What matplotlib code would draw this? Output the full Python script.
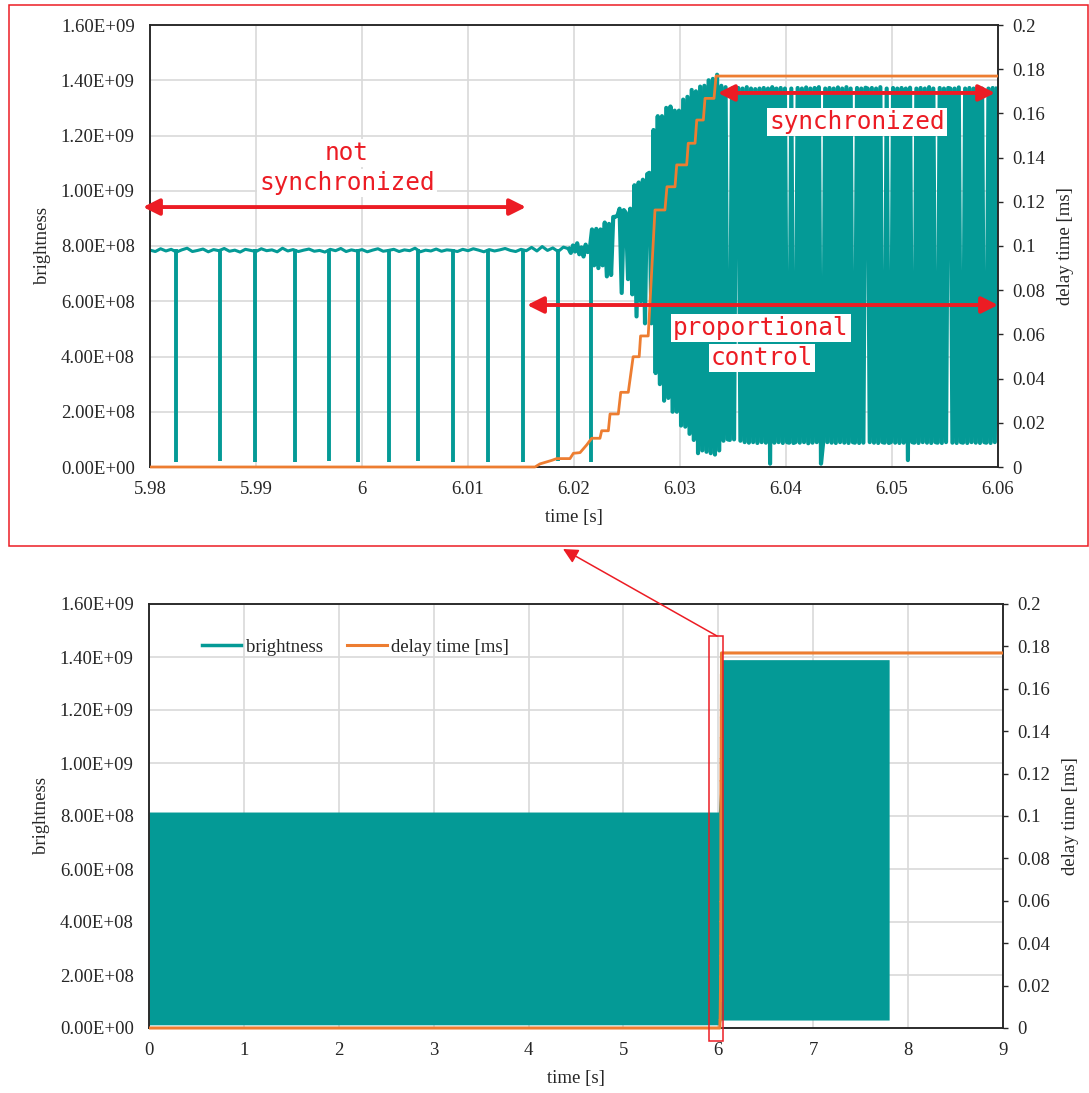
import numpy as np
import matplotlib
matplotlib.use('Agg')
import matplotlib.pyplot as plt
from matplotlib.ticker import MultipleLocator, FuncFormatter
from matplotlib.patches import Rectangle, FancyArrowPatch
from matplotlib.transforms import Bbox, TransformedBbox
from matplotlib.lines import Line2D

# Colours
TEAL = '#049a96'
ORANGE = '#ed7d31'
RED = '#ec1c24'
GRID = '#d9d9d9'
INK = '#262626'

plt.rcParams['font.family'] = ['Liberation Serif', 'DejaVu Serif']
plt.rcParams['font.size'] = 13.5
plt.rcParams['text.color'] = INK
plt.rcParams['axes.labelcolor'] = INK
plt.rcParams['xtick.color'] = INK
plt.rcParams['ytick.color'] = INK

# ---------------- data (brightness in units of 1e8) ----------------
# zoomed window: slow baseline before the controller starts, 0.5 ms samples
base_t0, base_dt = 5.980, 0.0005
base_b = [7.85, 7.80, 7.90, 7.82, 7.88, 7.78, 7.86, 7.92, 7.80, 7.84,
          7.89, 7.79, 7.87, 7.83, 7.91, 7.81, 7.85, 7.78, 7.88, 7.84,
          7.80, 7.90, 7.83, 7.86, 7.79, 7.92, 7.82, 7.87, 7.80, 7.85,
          7.89, 7.81, 7.84, 7.78, 7.88, 7.83, 7.91, 7.80, 7.86, 7.82,
          7.87, 7.79, 7.85, 7.90, 7.81, 7.84, 7.88, 7.80, 7.86, 7.83,
          7.92, 7.79, 7.85, 7.82, 7.89, 7.81, 7.86, 7.84, 7.80, 7.88,
          7.83, 7.90, 7.85, 7.79, 7.87, 7.82, 7.86, 7.91, 7.84, 7.80,
          7.88, 7.83, 7.95, 7.82, 7.98, 7.84, 7.93, 7.80, 7.96]

# short dark frames in the unsynchronized part
dip_t = [5.98245, 5.98658, 5.98993, 5.99365, 5.99686, 5.99962, 6.00258,
         6.00531, 6.00861, 6.01186, 6.01516, 6.01846, 6.02160]
dip_b = [0.19, 0.20, 0.19, 0.19, 0.20, 0.19, 0.19,
         0.20, 0.19, 0.19, 0.19, 0.20, 0.19]
dip_top = 7.9

# control / synchronized part, 0.2 ms samples
osc_t0, osc_dt = 6.0195, 0.0002
osc_b = [7.90, 7.75, 8.02, 7.80, 8.10, 7.70, 7.95, 7.62, 8.05, 7.78,
         7.92, 8.60, 7.30, 8.62, 7.20, 8.60, 7.30, 8.85, 6.90, 8.80,
         6.95, 9.05, 9.06, 9.10, 9.35, 6.30, 9.30, 9.20, 6.80, 9.35,
         6.25, 10.20, 5.45, 10.30, 6.00, 10.40, 5.20, 10.60, 10.65, 5.20,
         12.20, 3.40, 12.70, 3.00, 12.70, 2.40, 13.00, 2.50, 13.05, 2.00,
         12.90, 2.00, 12.90, 1.50, 13.30, 1.46, 13.40, 1.20, 13.65, 0.98,
         13.60, 0.50, 13.77, 0.60, 13.80, 0.55, 14.00, 0.50, 14.05, 0.45,
         14.20, 0.60, 13.80, 0.95, 13.75, 1.00, 0.98, 13.70, 1.00, 13.70,
         13.72, 0.95, 13.70, 0.90, 13.75, 0.88, 13.70, 0.90, 13.68, 0.87,
         13.70, 0.90, 13.72, 0.88, 13.70, 0.12, 13.75, 0.88, 13.70, 0.90,
         13.72, 0.87, 13.70, 0.90, 0.88, 13.70, 0.87, 0.90, 13.72, 0.88,
         13.70, 0.90, 13.74, 0.86, 13.70, 0.88, 13.72, 0.90, 13.75, 0.12,
         0.87, 13.70, 0.90, 13.72, 0.88, 13.70, 0.87, 13.74, 0.90, 13.70,
         0.88, 13.75, 0.87, 13.70, 0.90, 0.88, 13.72, 0.87, 13.70, 0.88,
         13.73, 13.70, 0.90, 13.72, 0.88, 13.70, 0.87, 13.75, 0.90, 0.88,
         13.70, 0.87, 0.90, 13.72, 0.88, 13.70, 0.87, 13.72, 0.88, 13.70,
         0.25, 13.73, 0.90, 0.88, 13.70, 0.87, 13.72, 0.90, 13.70, 0.88,
         13.75, 0.87, 13.70, 0.90, 0.88, 13.72, 0.87, 13.70, 0.90, 13.72,
         13.70, 0.88, 13.70, 0.87, 13.74, 0.90, 0.88, 13.70, 0.87, 13.72,
         0.90, 13.70, 0.88, 13.75, 0.87, 13.70, 0.90, 0.88, 13.70, 0.87,
         13.72, 0.90, 13.70]

# delay time [ms] (staircase of the proportional controller)
delay_t = [0.0, 6.01632, 6.01679, 6.01790, 6.01837, 6.01962, 6.01994,
           6.02057, 6.02120, 6.02167, 6.02245, 6.02261, 6.02324, 6.02340,
           6.02418, 6.02441, 6.02512, 6.02558, 6.02615, 6.02628, 6.02700,
           6.02764, 6.02858, 6.02877, 6.02953, 6.02969, 6.03063, 6.03078,
           6.03142, 6.03158, 6.03220, 6.03236, 6.03321, 6.03340, 9.0]
delay_ms = [0, 0, 0.0014, 0.0030, 0.0038, 0.0038, 0.0062,
            0.0065, 0.0100, 0.0130, 0.0130, 0.0164, 0.0164, 0.0240,
            0.0240, 0.0338, 0.0338, 0.0499, 0.0499, 0.0593, 0.0593,
            0.1163, 0.1163, 0.1268, 0.1268, 0.1367, 0.1367, 0.1465,
            0.1465, 0.1570, 0.1570, 0.1668, 0.1668, 0.1769, 0.1769]

# whole recording: envelope of the (very dense) brightness trace
band_t = [0.0, 6.00, 6.02, 6.028, 7.80]
band_hi = [8.15, 8.15, 9.30, 13.90, 13.90]
band_lo = [0.12, 0.12, 0.15, 0.30, 0.30]

W, H = 1089, 1093


def style_axes(ax, axr, xmin, xmax, xstep):
    ax.set_xlim(xmin, xmax)
    ax.set_ylim(0, 1.6e9)
    axr.set_ylim(0, 0.2)
    ax.xaxis.set_major_locator(MultipleLocator(xstep))
    ax.xaxis.set_major_formatter(FuncFormatter(lambda v, p: f'{v:g}'))
    ax.yaxis.set_major_locator(MultipleLocator(2e8))
    ax.yaxis.set_major_formatter(FuncFormatter(lambda v, p: f'{v:.2E}'))
    axr.yaxis.set_major_locator(MultipleLocator(0.02))
    axr.yaxis.set_major_formatter(FuncFormatter(lambda v, p: f'{v:g}'))
    ax.grid(True, color=GRID, lw=1.2)
    ax.set_axisbelow(True)
    ax.tick_params(axis='x', length=0, pad=10)
    ax.tick_params(axis='y', length=0, pad=11)
    axr.tick_params(axis='y', length=3.6, width=1.0, pad=7, direction='out')
    for a in (ax, axr):
        for s in a.spines.values():
            s.set_color(INK)
            s.set_linewidth(1.1)
    ax.set_xlabel('time [s]', labelpad=8)
    ax.set_ylabel('brightness', labelpad=7)
    axr.set_ylabel('delay time [ms]', labelpad=8)


def loose_clip(line, ax):
    # let the line at y = 0 keep its full width over the bottom spine
    line.set_clip_box(TransformedBbox(Bbox([[0, -0.02], [1, 1.02]]), ax.transAxes))
    line.set_zorder(3)


fig = plt.figure(figsize=(W / 100, H / 100), dpi=100)

# ---------------- top: zoom around the start of control ----------------
ax1 = fig.add_axes([150 / W, 1 - 467 / H, 848 / W, 442 / H])
ax1r = ax1.twinx()

base_t = base_t0 + base_dt * np.arange(len(base_b))
osc_t = osc_t0 + osc_dt * np.arange(len(osc_b))
ax1.plot(np.append(base_t, osc_t[0]), np.append(base_b, osc_b[0]) * 1e8,
         color=TEAL, lw=2.2)
ax1.plot(osc_t, np.array(osc_b) * 1e8, color=TEAL, lw=3.0)
ax1.vlines(dip_t, np.array(dip_b) * 1e8, dip_top * 1e8, color=TEAL, lw=2.8)

l1, = ax1r.plot(delay_t, delay_ms, color=ORANGE, lw=2.0)
loose_clip(l1, ax1r)
style_axes(ax1, ax1r, 5.98, 6.06, 0.01)


def double_arrow(x0, x1, y):
    ax1r.annotate('', xy=(x1, y), xytext=(x0, y),
                  xycoords=ax1.transData, textcoords=ax1.transData,
                  annotation_clip=False,
                  arrowprops=dict(arrowstyle='<|-|>,head_length=0.7,head_width=0.35',
                                  color=RED, lw=2.8, shrinkA=0, shrinkB=0,
                                  mutation_scale=14))


def red_label(x, y, s):
    ax1r.text(x, y, s, transform=ax1.transData, ha='center', va='center',
              family='DejaVu Sans Mono', fontsize=17.6, color=RED,
              bbox=dict(facecolor='white', edgecolor='none', pad=1.5))


double_arrow(5.97934, 6.01547, 9.41e8)
double_arrow(6.01557, 6.06, 5.864e8)
double_arrow(6.03358, 6.05972, 1.354e9)
red_label(5.99858, 1.137e9, 'not')
red_label(5.99858, 1.028e9, 'synchronized')
red_label(6.03764, 5.03e8, 'proportional')
red_label(6.03774, 3.946e8, 'control')
red_label(6.0467, 1.249e9, 'synchronized')

# ---------------- bottom: whole recording ----------------
ax2 = fig.add_axes([149 / W, 1 - 1028 / H, 854 / W, 424 / H])
ax2r = ax2.twinx()
ax2.fill_between(band_t, np.array(band_lo) * 1e8, np.array(band_hi) * 1e8,
                 color=TEAL, lw=0)
l2, = ax2r.plot(delay_t, delay_ms, color=ORANGE, lw=2.2, label='delay time [ms]')
loose_clip(l2, ax2r)
style_axes(ax2, ax2r, 0, 9, 1)

handles = [Line2D([], [], color=TEAL, lw=2.5, label='brightness'), l2]
ax2r.legend(handles=handles, loc='center left', bbox_to_anchor=(0.062, 0.8986),
            ncol=2, frameon=False, fontsize=13.5, handlelength=2.1,
            handletextpad=0.25, columnspacing=1.3, borderpad=0, borderaxespad=0)

# ---------------- zoom markers ----------------
fig.add_artist(Rectangle((9 / W, 1 - 546 / H), 1079 / W, 541 / H,
                         transform=fig.transFigure, fill=False,
                         edgecolor=RED, lw=1.1))
fig.add_artist(Rectangle((709 / W, 1 - 1041 / H), 14 / W, 405 / H,
                         transform=fig.transFigure, fill=False,
                         edgecolor=RED, lw=1.1))
fig.add_artist(FancyArrowPatch((717 / W, 1 - 636 / H), (563 / W, 1 - 549 / H),
                               transform=fig.transFigure,
                               arrowstyle='-|>,head_length=0.9,head_width=0.45',
                               mutation_scale=10, color=RED, lw=1.1,
                               shrinkA=0, shrinkB=0))

fig.savefig('out.png', dpi=100)
